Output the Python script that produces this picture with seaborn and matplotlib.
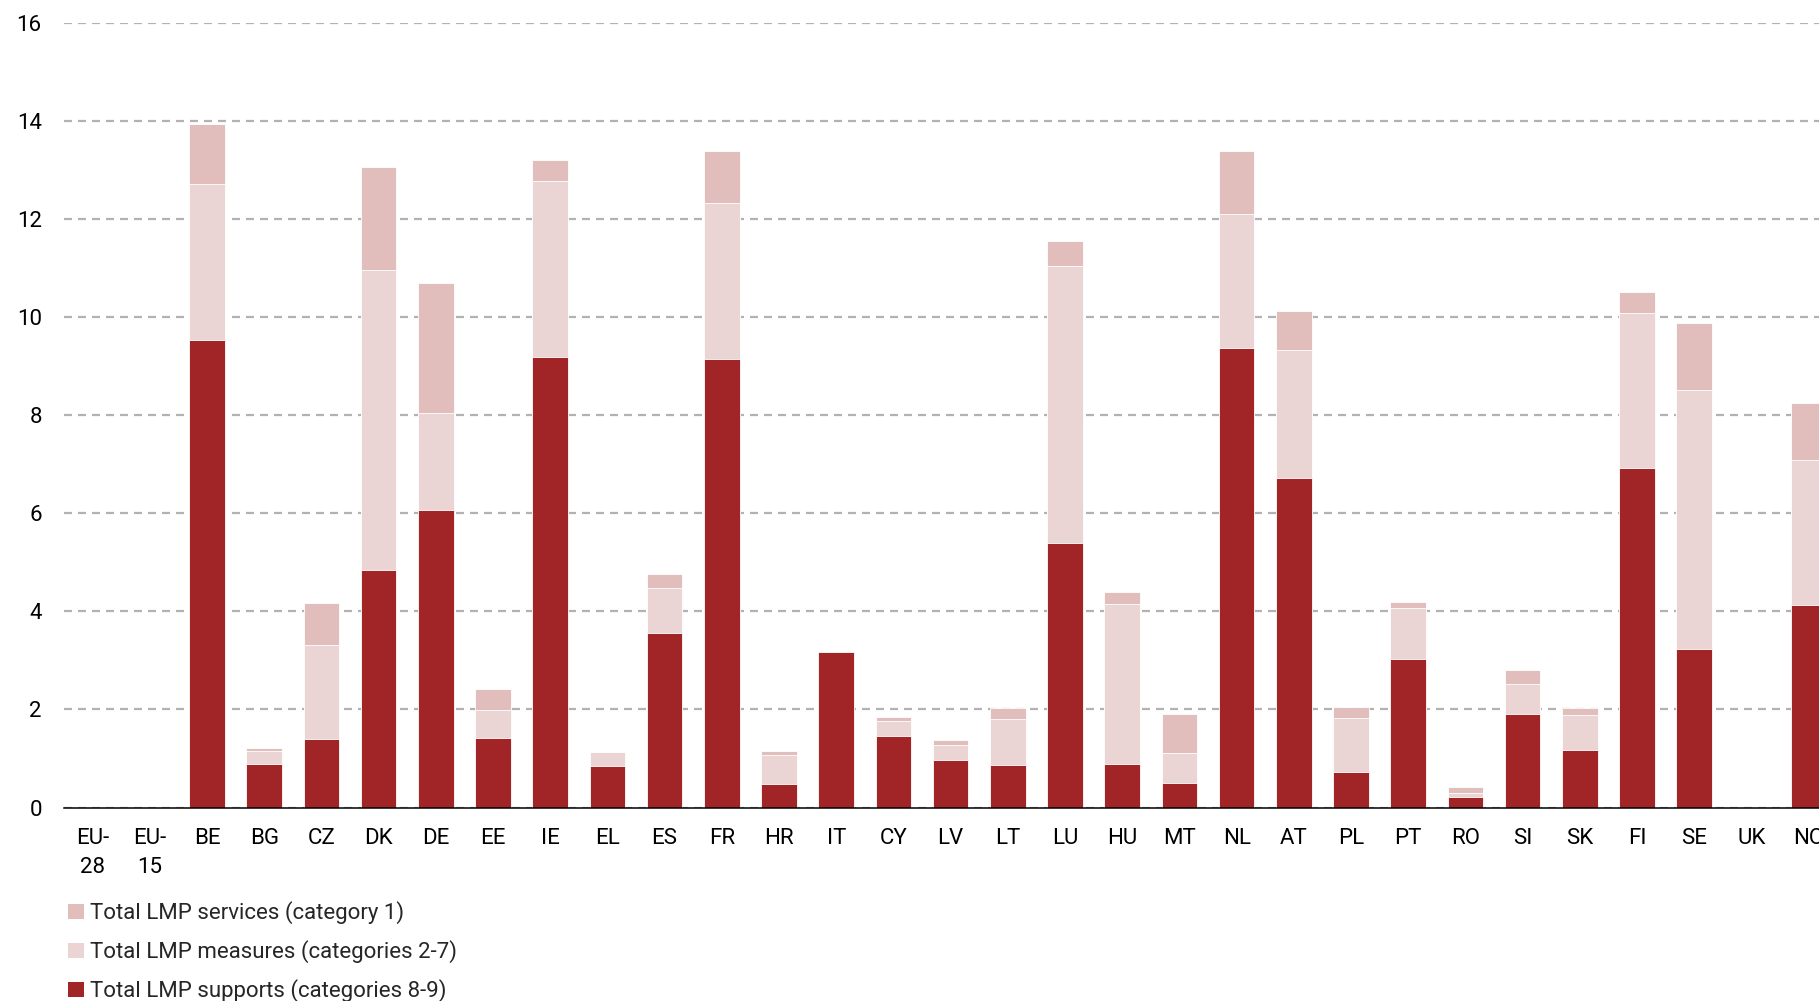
import numpy as np
import pandas as pd
import matplotlib
matplotlib.use("Agg")
import matplotlib.pyplot as plt
from matplotlib.patches import Patch
import seaborn as sns

categories = ["EU-\n28", "EU-\n15", "BE", "BG", "CZ", "DK", "DE", "EE", "IE", "EL", "ES",
              "FR", "HR", "IT", "CY", "LV", "LT", "LU", "HU", "MT", "NL", "AT", "PL",
              "PT", "RO", "SI", "SK", "FI", "SE", "UK", "NO"]

# stacked components
supports = [np.nan, np.nan, 9.54, 0.89, 1.39, 4.84, 6.07, 1.41, 9.20, 0.84, 3.56,
            9.16, 0.48, 3.18, 1.46, 0.97, 0.86, 5.40, 0.89, 0.50, 9.37, 6.72, 0.73,
            3.03, 0.21, 1.90, 1.17, 6.93, 3.24, np.nan, 4.14]
measures = [np.nan, np.nan, 3.19, 0.26, 1.92, 6.13, 1.97, 0.58, 3.58, 0.30, 0.92,
            3.17, 0.59, 0.0, 0.30, 0.31, 0.94, 5.64, 3.26, 0.61, 2.73, 2.61, 1.09,
            1.04, 0.09, 0.61, 0.71, 3.16, 5.27, np.nan, 2.95]
services = [np.nan, np.nan, 1.21, 0.06, 0.87, 2.09, 2.67, 0.43, 0.42, 0.0, 0.28,
            1.07, 0.09, 0.0, 0.08, 0.10, 0.22, 0.51, 0.24, 0.79, 1.30, 0.79, 0.23,
            0.12, 0.11, 0.29, 0.16, 0.42, 1.37, np.nan, 1.17]

labels = ["Total LMP services (category 1)",
          "Total LMP measures (categories 2-7)",
          "Total LMP supports (categories 8-9)"]
c_services = "#E1BEBC"
c_measures = "#EBD4D4"
c_supports = "#A12427"

df = pd.DataFrame({"cat": categories,
                   "supports": supports,
                   "measures": measures,
                   "services": services})
df["lvl2"] = df["supports"] + df["measures"]
df["lvl3"] = df["lvl2"] + df["services"]

sns.set_theme(style="white")
plt.rcParams["font.family"] = ["Roboto", "DejaVu Sans"]

fig = plt.figure(figsize=(18.19, 10.01), dpi=100)
ax = fig.add_axes([0.0352, 0.1933, 0.9748, 0.7835])

w = 0.62
for col, colr in [("lvl3", c_services), ("lvl2", c_measures), ("supports", c_supports)]:
    sns.barplot(data=df, x="cat", y=col, order=categories, color=colr, width=w,
                saturation=1, edgecolor="white", linewidth=0.6, ax=ax, errorbar=None)

ax.set_xlim(-0.5, len(categories) - 0.5)
ax.set_ylim(0, 16)
ax.set_yticks(np.arange(0, 17, 2))
ax.set_xlabel("")
ax.set_ylabel("")

ax.set_axisbelow(True)
ax.yaxis.grid(True, color="#B2B2B2", linewidth=1.6, linestyle=(0, (3.6, 2.7)))
ax.xaxis.grid(False)

for s in ["top", "right", "left"]:
    ax.spines[s].set_visible(False)
ax.spines["bottom"].set_color("black")
ax.spines["bottom"].set_linewidth(1.1)

ax.tick_params(axis="y", length=0, pad=16, labelsize=16, labelcolor="black")
ax.tick_params(axis="x", which="major", length=0, pad=15, labelsize=16, labelcolor="black")
for t in ax.get_xticklabels():
    t.set_linespacing(1.45)
ax.set_xticks(np.arange(-0.5, len(categories), 1), minor=True)
ax.tick_params(axis="x", which="minor", length=7, width=1.0, color="#444444", direction="out")

handles = [Patch(facecolor=c_services, edgecolor="none"),
           Patch(facecolor=c_measures, edgecolor="none"),
           Patch(facecolor=c_supports, edgecolor="none")]
fig.legend(handles, labels, loc="upper left", bbox_to_anchor=(0.0375, 0.0995),
           frameon=False, fontsize=16, handlelength=0.7, handleheight=0.7,
           handletextpad=0.3, labelspacing=0.72, borderaxespad=0, borderpad=0)

fig.savefig("out.png", dpi=100)
